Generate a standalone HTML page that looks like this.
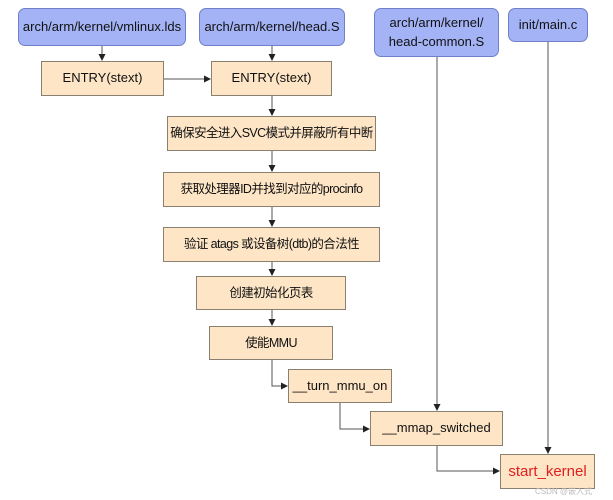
<!DOCTYPE html>
<html><head><meta charset="utf-8"><style>
body{margin:0;width:613px;height:500px;background:#fff;position:relative;overflow:hidden;font-family:"Liberation Sans","Noto Sans CJK SC",sans-serif;}
.b{position:absolute;box-sizing:border-box;display:flex;align-items:center;justify-content:center;text-align:center;font-size:13px;color:#111;line-height:1.45;white-space:nowrap}
.blue{background:#a4b3f5;border:1px solid #7080c8;border-radius:7px}
.or{background:#fde5c6;border:1px solid #8a8070}
.cn{font-size:12.5px;letter-spacing:-0.6px}
</style></head><body>
<svg width="613" height="500" style="position:absolute;left:0;top:0">
<defs><marker id="a" markerWidth="7" markerHeight="7" refX="6" refY="3.5" orient="auto"><path d="M0,0L7,3.5L0,7z" fill="#222"/></marker></defs>
<g stroke="#555" stroke-width="1" fill="none">
<path d="M102,46V60" marker-end="url(#a)"/>
<path d="M272,46V60" marker-end="url(#a)"/>
<path d="M164,79H210" marker-end="url(#a)"/>
<path d="M272,96V115" marker-end="url(#a)"/>
<path d="M272,151V171" marker-end="url(#a)"/>
<path d="M272,207V226" marker-end="url(#a)"/>
<path d="M272,262V275" marker-end="url(#a)"/>
<path d="M272,310V325" marker-end="url(#a)"/>
<path d="M272,360V386H287" marker-end="url(#a)"/>
<path d="M340,403V429H369" marker-end="url(#a)"/>
<path d="M437,446V471H499" marker-end="url(#a)"/>
<path d="M437,57V410" marker-end="url(#a)"/>
<path d="M548,42V453" marker-end="url(#a)"/>
</g></svg>
<div class="b blue" style="left:18px;top:8px;width:168px;height:38px">arch/arm/kernel/vmlinux.lds</div>
<div class="b blue" style="left:199px;top:8px;width:146px;height:38px">arch/arm/kernel/head.S</div>
<div class="b blue" style="left:374px;top:8px;width:125px;height:49px">arch/arm/kernel/<br>head-common.S</div>
<div class="b blue" style="left:508px;top:8px;width:80px;height:34px">init/main.c</div>
<div class="b or" style="left:41px;top:61px;width:123px;height:35px">ENTRY(stext)</div>
<div class="b or" style="left:211px;top:61px;width:121px;height:35px">ENTRY(stext)</div>
<div class="b or cn" style="left:167px;top:116px;width:209px;height:35px">确保安全进入SVC模式并屏蔽所有中断</div>
<div class="b or cn" style="left:163px;top:172px;width:217px;height:35px">获取处理器ID并找到对应的procinfo</div>
<div class="b or cn" style="left:163px;top:227px;width:217px;height:35px">验证 atags 或设备树(dtb)的合法性</div>
<div class="b or cn" style="left:196px;top:276px;width:150px;height:34px">创建初始化页表</div>
<div class="b or cn" style="left:209px;top:326px;width:124px;height:34px">使能MMU</div>
<div class="b or" style="left:288px;top:369px;width:104px;height:34px">__turn_mmu_on</div>
<div class="b or" style="left:370px;top:411px;width:133px;height:35px">__mmap_switched</div>
<div class="b or" style="left:500px;top:454px;width:95px;height:35px;color:#e02020;font-size:15px">start_kernel</div>
<div style="position:absolute;left:535px;top:486px;font-size:8px;color:#bbb">CSDN @嵌入式</div>
</body></html>
